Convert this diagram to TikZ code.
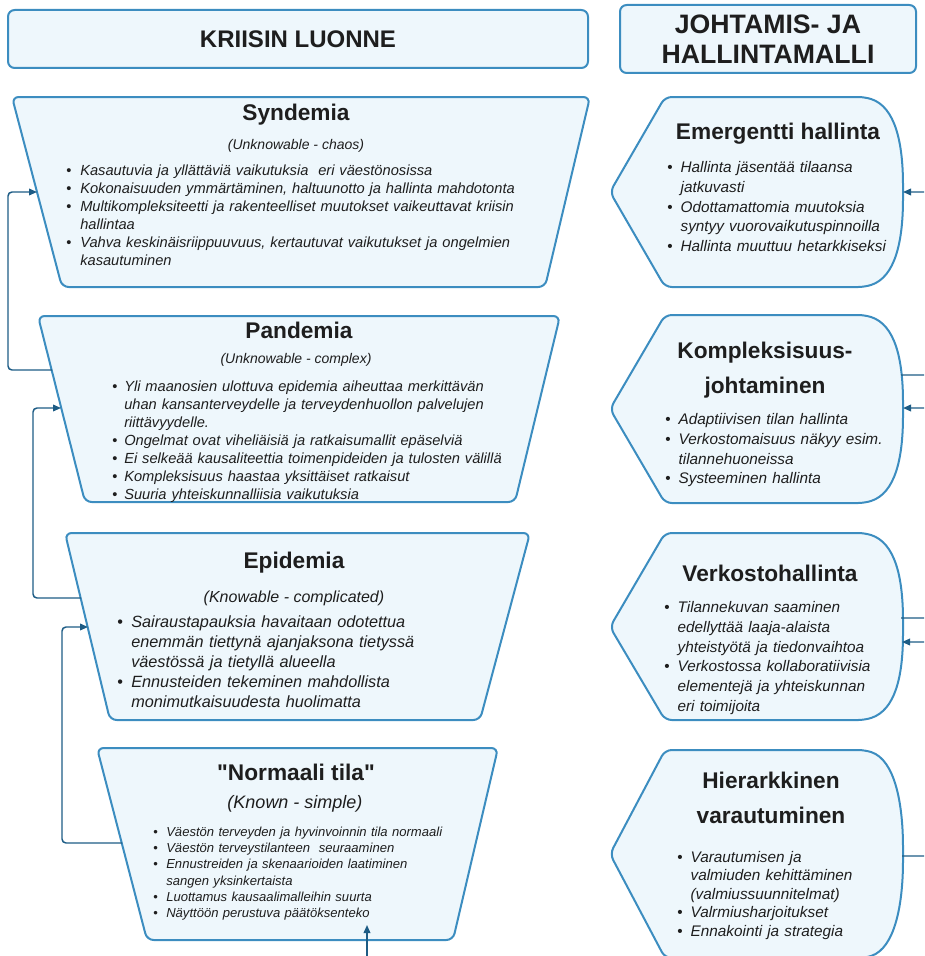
\documentclass[tikz,border=0pt]{standalone}
\usepackage{fontspec}
\setmainfont{Liberation Sans}
\usepackage{enumitem}
\usetikzlibrary{arrows.meta,positioning}
\definecolor{boxblue}{HTML}{3C8DC0}
\definecolor{boxfill}{HTML}{EEF7FC}
\definecolor{linkblue}{HTML}{1D5C85}
\definecolor{textdark}{HTML}{1E1E1E}
\setlist[itemize]{nosep, labelsep=0pt, align=left, label={\upshape\textbullet}}
\newcommand{\sq}{{\addfontfeatures{Ligatures=TeXOff}"}}

\tikzset{
  box/.style={draw=boxblue, fill=boxfill, line width=1.5pt, rounded corners=5pt},
  head/.style={box, text=textdark, align=center},
  ttl/.style={inner sep=0pt, text=textdark, font=\bfseries\fontsize{17}{20}\selectfont, align=center},
  subttl/.style={inner sep=0pt, text=textdark},
  blist/.style={inner sep=0pt, anchor=base west, text=textdark, text width=#1, align=left},
  link/.style={draw=linkblue, line width=1.1pt, rounded corners=3pt},
  conn/.style={link, -{Triangle[length=6pt,width=5pt]}},
}

\begin{document}
\begin{tikzpicture}[x=0.75pt, y=-0.75pt]
\useasboundingbox (0,0) rectangle (924,956);
\clip (0,0) rectangle (924,956);

% otsikot
\node[head, minimum width=435pt, minimum height=43.5pt, font=\bfseries\fontsize{18}{21}\selectfont] (kriisi) at (298,39) {KRIISIN LUONNE};
\node[head, minimum width=222pt, minimum height=51pt, font=\bfseries\fontsize{20}{22.5}\selectfont] (malli) at (768,39) {JOHTAMIS- JA\\HALLINTAMALLI};

% kriisin luonne
\draw[box] (12,97) -- (590,97) -- (545,287) -- (62,287) -- cycle;
\draw[box] (38,316) -- (560,316) -- (515,502) -- (85,502) -- cycle;
\draw[box] (65,533) -- (530,533) -- (480,720) -- (110,720) -- cycle;
\draw[box] (97,748) -- (498,748) -- (453,940) -- (147,940) -- cycle;

% johtamismallit
\draw[box] (665,97) -- (865,97) .. controls +(30,10) and +(0,-50) .. (903,192) .. controls +(0,50) and +(30,-10) .. (865,287) -- (665,287) -- (610,192) -- cycle;
\draw[box] (665,315) -- (865,315) .. controls +(30,10) and +(0,-50) .. (903,409) .. controls +(0,50) and +(30,-10) .. (865,503) -- (665,503) -- (610,409) -- cycle;
\draw[box] (665,533) -- (865,533) .. controls +(30,10) and +(0,-50) .. (903,627) .. controls +(0,50) and +(30,-10) .. (865,720) -- (665,720) -- (610,627) -- cycle;
\draw[box] (665,750) -- (865,750) .. controls +(30,10) and +(0,-50) .. (903,854) .. controls +(0,50) and +(30,-10) .. (865,958) -- (665,958) -- (610,854) -- cycle;

% liitoskohdat
\coordinate (syn-in) at (37,192);
\coordinate (pan-out) at (52,370);
\coordinate (pan-in) at (61,408);
\coordinate (epi-out) at (81,598);
\coordinate (epi-in) at (88,627);
\coordinate (nor-out) at (122,843);
\coordinate (nor-in) at (367,925);
\coordinate (nor-from) at (367,962);
\coordinate (eme-in) at (903,192);
\coordinate (kom-out) at (901,375);
\coordinate (kom-in) at (903,408);
\coordinate (ver-out) at (901,618);
\coordinate (ver-in) at (902,642);
\coordinate (hie-out) at (902,856);

\draw[conn] (pan-out) -- ++(-44,0) |- (syn-in);
\draw[conn] (epi-out) -- ++(-48,0) |- (pan-in);
\draw[conn] (nor-out) -- ++(-60,0) |- (epi-in);
\draw[conn] (nor-from) -- (nor-in);
\draw[conn] (kom-out) -- ++(40,0) |- (eme-in);
\draw[conn] (ver-out) -- ++(40,0) |- (kom-in);
\draw[conn] (hie-out) -- ++(40,0) |- (ver-in);

% tekstit: syndemia
\node[ttl] (syn) at (296,115) {Syndemia};
\node[subttl, font=\itshape\fontsize{10.5}{12}\selectfont] (syn-sub) at (296,146) {(Unknowable - chaos)};
\node[blist=400pt, font=\itshape\fontsize{11}{13.5}\selectfont] (syn-list) at (66,157) {%
\begin{itemize}[leftmargin=10.5pt, labelwidth=10.5pt]
\item Kasautuvia ja yllättäviä vaikutuksia \ eri väestönosissa
\item Kokonaisuuden ymmärtäminen, haltuunotto ja hallinta mahdotonta
\item Multikompleksiteetti ja rakenteelliset muutokset vaikeuttavat kriisin\newline hallintaa
\item Vahva keskinäisriippuuvuus, kertautuvat vaikutukset ja ongelmien\newline kasautuminen
\end{itemize}};

% pandemia
\node[ttl] (pan) at (299,330) {Pandemia};
\node[subttl, font=\itshape\fontsize{10.5}{12}\selectfont] (pan-sub) at (296,360) {(Unknowable - complex)};
\node[blist=400pt, font=\itshape\fontsize{11}{13.5}\selectfont] (pan-list) at (112,373) {%
\begin{itemize}[leftmargin=9pt, labelwidth=9pt]
\item Yli maanosien ulottuva epidemia aiheuttaa merkittävän\newline uhan kansanterveydelle ja terveydenhuollon palvelujen\newline riittävyydelle.
\item Ongelmat ovat viheliäisiä ja ratkaisumallit epäselviä
\item Ei selkeää kausaliteettia toimenpideiden ja tulosten välillä
\item Kompleksisuus haastaa yksittäiset ratkaisut
\item Suuria yhteiskunnalliisia vaikutuksia
\end{itemize}};

% epidemia
\node[ttl] (epi) at (294,563) {Epidemia};
\node[subttl, font=\itshape\fontsize{12}{14}\selectfont] (epi-sub) at (294,598) {(Knowable - complicated)};
\node[blist=400pt, font=\itshape\fontsize{12.2}{15}\selectfont] (epi-list) at (117,607) {%
\begin{itemize}[leftmargin=10.5pt, labelwidth=10.5pt]
\item Sairaustapauksia havaitaan odotettua\newline enemmän tiettynä ajanjaksona tietyssä\newline väestössä ja tietyllä alueella
\item Ennusteiden tekeminen mahdollista\newline monimutkaisuudesta huolimatta
\end{itemize}};

% normaali tila
\node[ttl] (nor) at (296,772) {\sq Normaali tila\sq};
\node[subttl, font=\itshape\fontsize{13.5}{15}\selectfont] (nor-sub) at (295,804) {(Known - simple)};
\node[blist=400pt, font=\itshape\fontsize{9.8}{12.2}\selectfont] (nor-list) at (153,820) {%
\begin{itemize}[leftmargin=9.75pt, labelwidth=9.75pt]
\item Väestön terveyden ja hyvinvoinnin tila normaali
\item Väestön terveystilanteen \ seuraaminen
\item Ennustreiden ja skenaarioiden laatiminen\newline sangen yksinkertaista
\item Luottamus kausaalimalleihin suurta
\item Näyttöön perustuva päätöksenteko
\end{itemize}};

% emergentti hallinta
\node[ttl] (eme) at (778,134) {Emergentti hallinta};
\node[blist=300pt, font=\itshape\fontsize{11.5}{14.8}\selectfont] (eme-list) at (667,153) {%
\begin{itemize}[leftmargin=10pt, labelwidth=10pt]
\item Hallinta jäsentää tilaansa\newline jatkuvasti
\item Odottamattomia muutoksia\newline syntyy vuorovaikutuspinnoilla
\item Hallinta muuttuu hetarkkiseksi
\end{itemize}};

% kompleksisuusjohtaminen
\node[ttl, font=\bfseries\fontsize{17}{26}\selectfont] (kom) at (765,370) {Kompleksisuus-\\johtaminen};
\node[blist=300pt, font=\itshape\fontsize{11.5}{14.8}\selectfont] (kom-list) at (665,405) {%
\begin{itemize}[leftmargin=10pt, labelwidth=10pt]
\item Adaptiivisen tilan hallinta
\item Verkostomaisuus näkyy esim.\newline tilannehuoneissa
\item Systeeminen hallinta
\end{itemize}};

% verkostohallinta
\node[ttl] (ver) at (770,573) {Verkostohallinta};
\node[blist=300pt, font=\itshape\fontsize{11.5}{14.8}\selectfont] (ver-list) at (664,593) {%
\begin{itemize}[leftmargin=10pt, labelwidth=10pt]
\item Tilannekuvan saaminen\newline edellyttää laaja-alaista\newline yhteistyötä ja tiedonvaihtoa
\item Verkostossa kollaboratiivisia\newline elementejä ja yhteiskunnan\newline eri toimijoita
\end{itemize}};

% hierarkkinen varautuminen
\node[ttl, font=\bfseries\fontsize{17}{26}\selectfont] (hie) at (771,798) {Hierarkkinen\\varautuminen};
\node[blist=300pt, font=\itshape\fontsize{11.5}{13.8}\selectfont] (hie-list) at (677,844) {%
\begin{itemize}[leftmargin=10pt, labelwidth=10pt]
\item Varautumisen ja\newline valmiuden kehittäminen\newline (valmiussuunnitelmat)
\item Valrmiusharjoitukset
\item Ennakointi ja strategia
\end{itemize}};

\end{tikzpicture}
\end{document}
